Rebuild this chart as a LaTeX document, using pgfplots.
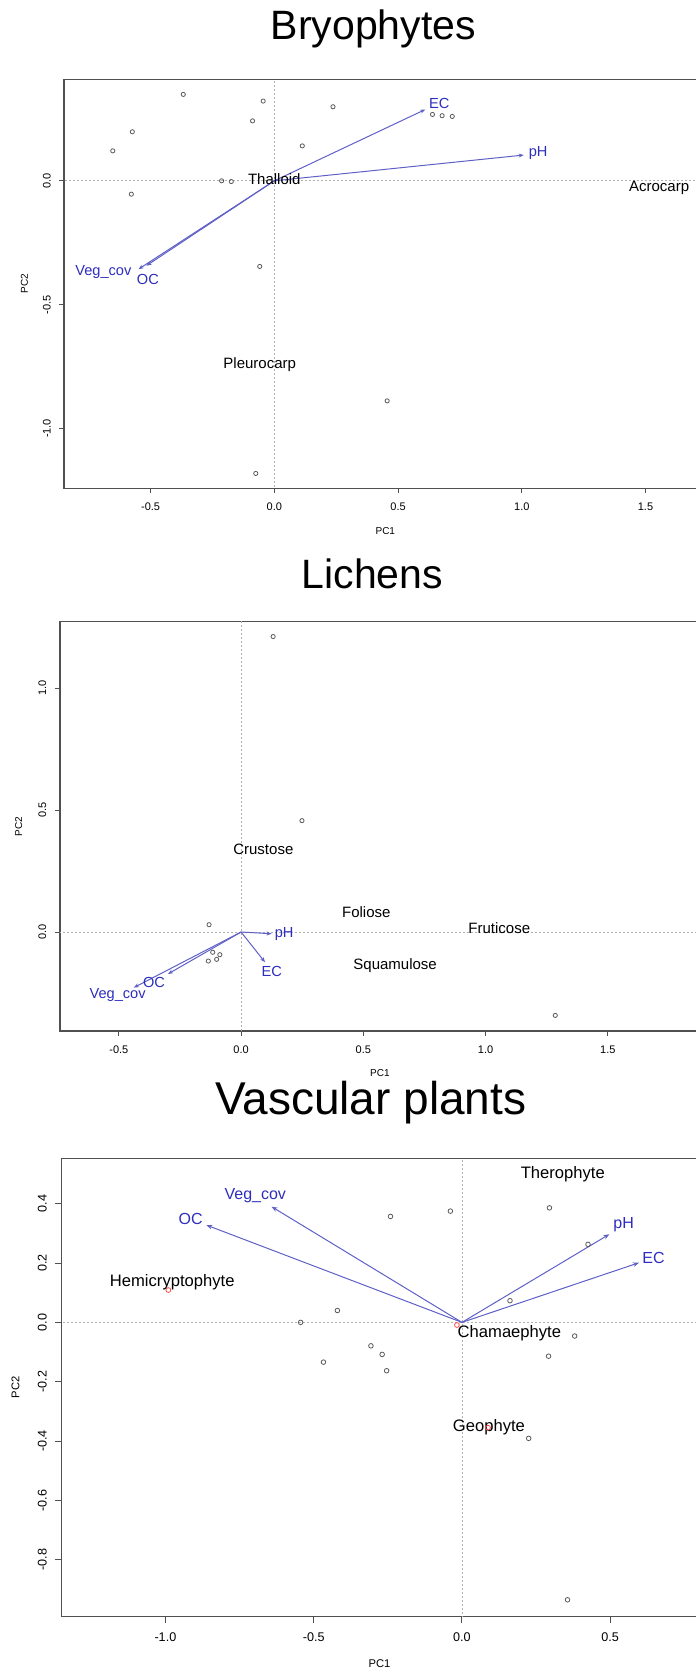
\documentclass[border=0pt]{standalone}
\usepackage{fontspec}
\setmainfont{Liberation Sans}
\usepackage{pgfplots}
\pgfplotsset{compat=1.18}
\usetikzlibrary{arrows.meta}
\definecolor{arrowc}{RGB}{95,95,200}
\definecolor{labc}{RGB}{45,45,190}
\definecolor{axc}{RGB}{80,80,80}
\definecolor{ptc}{RGB}{90,90,90}
\definecolor{zc}{RGB}{175,175,175}
\pgfplotsset{
  rplot/.style={
    scale only axis, anchor=north west,
    axis line style={axc, line width=0.7pt},
    tick style={axc, line width=0.5pt},
    tick align=outside,
    xtick pos=bottom, ytick pos=left,
    major tick length=2.5pt,
    yticklabel style={rotate=90, anchor=south, inner sep=0pt},
    xticklabel style={anchor=north, inner sep=0pt},
    xlabel style={anchor=center, inner sep=0pt},
    ylabel style={anchor=center, inner sep=0pt},
    clip=true,
  },
  zline/.style={zc, line width=0.45pt, dash pattern=on 1pt off 1pt},
  pts/.style={only marks, mark=o, mark size=1.05pt, mark options={ptc, line width=0.4pt}},
  arr/.style={arrowc, line width=0.5pt, -{Stealth[length=2.6pt,width=2pt]}},
}
\begin{document}
\begin{tikzpicture}
\path[use as bounding box] (0,0) rectangle (348pt,-835.5pt);
\clip (0,0) rectangle (348pt,-835.5pt);

% Titles
\node[anchor=base, font=\fontsize{20.5}{24}\selectfont] at (186.65pt,-19.65pt) {Bryophytes};
\node[anchor=base, font=\fontsize{20.5}{24}\selectfont] at (186.2pt,-294.15pt) {Lichens};
\node[anchor=base, font=\fontsize{23}{27}\selectfont] at (185.35pt,-557.15pt) {Vascular plants};

% ---------- Bryophytes ----------
\begin{axis}[rplot, at={(32pt,-39.65pt)}, width=321.3pt, height=204.5pt,
  xmin=-0.850, xmax=1.747, ymin=-1.242, ymax=0.410,
  xtick={-0.5,0,0.5,1,1.5}, xticklabels={-0.5,0.0,0.5,1.0,1.5},
  ytick={-1,-0.5,0}, yticklabels={-1.0,-0.5,0.0},
  tick label style={font=\fontsize{5.5}{6}\selectfont},
  xticklabel shift=4.6pt, yticklabel shift=3.9pt,
  xlabel={PC1}, ylabel={PC2},
  label style={font=\fontsize{5}{6}\selectfont},
  xlabel style={at={(axis description cs:0.5,-0.1037)}},
  ylabel style={at={(axis description cs:-0.0616,0.501)}},
]
\addplot[zline] coordinates {(-5,0) (5,0)};
\addplot[zline] coordinates {(0,-5) (0,5)};
\addplot[pts] coordinates {
(-0.368,0.349) (-0.045,0.322) (0.237,0.299) (-0.088,0.242) (-0.574,0.198)
(-0.653,0.121) (0.113,0.141) (0.639,0.268) (0.678,0.263) (0.719,0.260)
(-0.213,0.000) (-0.174,-0.003) (-0.578,-0.054) (-0.059,-0.346) (0.456,-0.889)
(-0.075,-1.182)};
\addplot[arr] coordinates {(0,0) (0.610,0.288)};
\addplot[arr] coordinates {(0,0) (1.008,0.104)};
\addplot[arr] coordinates {(0,0) (-0.549,-0.357)};
\addplot[arr] coordinates {(0,0) (-0.517,-0.343)};
\node[labc, font=\fontsize{7.3}{8}\selectfont] at (axis cs:0.667,0.313) {EC};
\node[labc, font=\fontsize{7.3}{8}\selectfont] at (axis cs:1.066,0.111) {pH};
\node[labc, font=\fontsize{7.3}{8}\selectfont] at (axis cs:-0.691,-0.367) {Veg\_cov};
\node[labc, font=\fontsize{7.3}{8}\selectfont] at (axis cs:-0.511,-0.397) {OC};
\node[font=\fontsize{7.5}{8}\selectfont] at (axis cs:0.0,0.006) {Thalloid};
\node[font=\fontsize{7.5}{8}\selectfont] at (axis cs:1.555,-0.027) {Acrocarp};
\node[font=\fontsize{7.5}{8}\selectfont] at (axis cs:-0.059,-0.742) {Pleurocarp};
\end{axis}

% ---------- Lichens ----------
\begin{axis}[rplot, at={(29.95pt,-310.85pt)}, width=320.05pt, height=204.65pt,
  xmin=-0.741, xmax=1.877, ymin=-0.406, ymax=1.273,
  xtick={-0.5,0,0.5,1,1.5}, xticklabels={-0.5,0.0,0.5,1.0,1.5},
  ytick={0,0.5,1}, yticklabels={0.0,0.5,1.0},
  tick label style={font=\fontsize{5.5}{6}\selectfont},
  xticklabel shift=4.8pt, yticklabel shift=4.1pt,
  xlabel={PC1}, ylabel={PC2},
  label style={font=\fontsize{5}{6}\selectfont},
  xlabel style={at={(axis description cs:0.5,-0.1019)}},
  ylabel style={at={(axis description cs:-0.0645,0.499)}},
]
\addplot[zline] coordinates {(-5,0) (5,0)};
\addplot[zline] coordinates {(0,-5) (0,5)};
\addplot[pts] coordinates {
(0.131,1.212) (0.249,0.457) (-0.131,0.030) (-0.116,-0.083) (-0.087,-0.093)
(-0.134,-0.119) (-0.100,-0.112) (1.285,-0.342)};
\addplot[arr] coordinates {(0,0) (0.125,-0.007)};
\addplot[arr] coordinates {(0,0) (0.098,-0.124)};
\addplot[arr] coordinates {(0,0) (-0.299,-0.172)};
\addplot[arr] coordinates {(0,0) (-0.439,-0.228)};
\node[labc, font=\fontsize{7.3}{8}\selectfont] at (axis cs:0.176,-0.007) {pH};
\node[labc, font=\fontsize{7.3}{8}\selectfont] at (axis cs:0.125,-0.160) {EC};
\node[labc, font=\fontsize{7.3}{8}\selectfont] at (axis cs:-0.356,-0.205) {OC};
\node[labc, font=\fontsize{7.3}{8}\selectfont] at (axis cs:-0.505,-0.258) {Veg\_cov};
\node[font=\fontsize{7.5}{8}\selectfont] at (axis cs:0.091,0.339) {Crustose};
\node[font=\fontsize{7.5}{8}\selectfont] at (axis cs:0.512,0.081) {Foliose};
\node[font=\fontsize{7.5}{8}\selectfont] at (axis cs:1.056,0.014) {Fruticose};
\node[font=\fontsize{7.5}{8}\selectfont] at (axis cs:0.630,-0.138) {Squamulose};
\end{axis}

% ---------- Vascular plants ----------
\begin{axis}[rplot, at={(30.65pt,-579.15pt)}, width=318.2pt, height=229.2pt,
  xmin=-1.351, xmax=0.795, ymin=-0.992, ymax=0.553,
  xtick={-1,-0.5,0,0.5}, xticklabels={-1.0,-0.5,0.0,0.5},
  ytick={-0.8,-0.6,-0.4,-0.2,0,0.2,0.4}, yticklabels={-0.8,-0.6,-0.4,-0.2,0.0,0.2,0.4},
  major tick length=3pt,
  tick label style={font=\fontsize{6.3}{7}\selectfont},
  xticklabel shift=4.8pt, yticklabel shift=4.1pt,
  xlabel={PC1}, ylabel={PC2},
  label style={font=\fontsize{5.6}{6}\selectfont},
  xlabel style={at={(axis description cs:0.5,-0.1017)}},
  ylabel style={at={(axis description cs:-0.072,0.500)}},
]
\addplot[zline] coordinates {(-5,0) (5,0)};
\addplot[zline] coordinates {(0,-5) (0,5)};
\addplot[pts, mark size=1.15pt] coordinates {
(-0.039,0.375) (-0.241,0.357) (0.295,0.386) (0.425,0.263) (0.162,0.073)
(-0.420,0.040) (-0.544,0.000) (0.380,-0.046) (-0.307,-0.079) (-0.269,-0.108)
(0.292,-0.114) (-0.467,-0.134) (-0.254,-0.163) (0.225,-0.391) (0.356,-0.935)};
\addplot[only marks, mark=o, mark size=1.2pt, mark options={red!70!white, line width=0.4pt}] coordinates {
(-0.017,-0.009) (-0.990,0.109) (0.088,-0.355)};
\addplot[arr, -{Stealth[length=3pt,width=2.3pt]}] coordinates {(0,0) (-0.862,0.328)};
\addplot[arr, -{Stealth[length=3pt,width=2.3pt]}] coordinates {(0,0) (-0.642,0.390)};
\addplot[arr, -{Stealth[length=3pt,width=2.3pt]}] coordinates {(0,0) (0.497,0.297)};
\addplot[arr, -{Stealth[length=3pt,width=2.3pt]}] coordinates {(0,0) (0.597,0.201)};
\node[labc, font=\fontsize{8}{9}\selectfont] at (axis cs:-0.915,0.348) {OC};
\node[labc, font=\fontsize{8}{9}\selectfont] at (axis cs:-0.697,0.426) {Veg\_cov};
\node[labc, font=\fontsize{8}{9}\selectfont] at (axis cs:0.545,0.328) {pH};
\node[labc, font=\fontsize{8}{9}\selectfont] at (axis cs:0.646,0.216) {EC};
\node[font=\fontsize{8.3}{9}\selectfont] at (axis cs:0.340,0.499) {Therophyte};
\node[font=\fontsize{8.3}{9}\selectfont] at (axis cs:-0.977,0.137) {Hemicryptophyte};
\node[font=\fontsize{8.3}{9}\selectfont] at (axis cs:0.160,-0.035) {Chamaephyte};
\node[font=\fontsize{8.3}{9}\selectfont] at (axis cs:0.091,-0.354) {Geophyte};
\end{axis}
\end{tikzpicture}
\end{document}
